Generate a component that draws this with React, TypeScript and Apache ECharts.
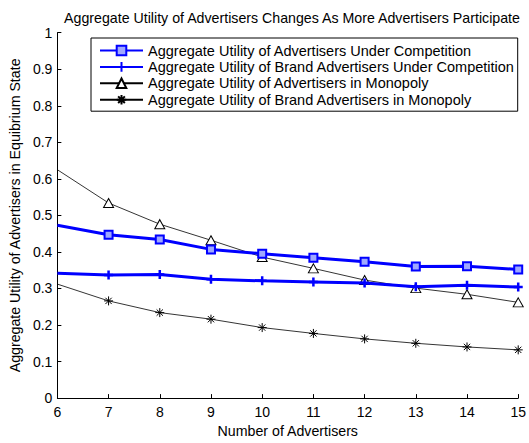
import React, { useEffect, useRef } from "react";
import * as echarts from "echarts";

const xValues = [6, 7, 8, 9, 10, 11, 12, 13, 14, 15];
const compAll = [0.473, 0.447, 0.434, 0.407, 0.395, 0.384, 0.373, 0.36, 0.361, 0.352];
const compBrand = [0.342, 0.337, 0.338, 0.325, 0.321, 0.318, 0.315, 0.305, 0.309, 0.304];
const monoAll = [0.625, 0.534, 0.476, 0.432, 0.386, 0.355, 0.323, 0.301, 0.284, 0.262];
const monoBrand = [0.312, 0.266, 0.234, 0.216, 0.193, 0.177, 0.162, 0.15, 0.14, 0.132];
const seriesNames = [
  "Aggregate Utility of Advertisers Under Competition",
  "Aggregate Utility of Brand Advertisers Under Competition",
  "Aggregate Utility of Advertisers in Monopoly",
  "Aggregate Utility of Brand Advertisers in Monopoly",
];
const titleText = "Aggregate Utility of Advertisers Changes As More Advertisers Participate";
const xName = "Number of Advertisers";
const yName = "Aggregate Utility of Advertisers in Equibrium State";

const FONT = "'Liberation Sans', Arial, Helvetica, sans-serif";
const FS = 14.2;
const LEG_FS = 14.5;
const TICK_FS = 14;
const PLUS = "path://M5,0 L5,10 M0,5 L10,5";
const STAR = "path://M5,0 L5,10 M0,5 L10,5 M1.5,1.5 L8.5,8.5 M8.5,1.5 L1.5,8.5";

function toData(vals: number[]) {
  return vals.map((v, i) =>
    i === 0 ? { value: [xValues[i], v], symbol: "none" } : { value: [xValues[i], v] }
  );
}

export default function App() {
  const ref = useRef<HTMLDivElement>(null);
  useEffect(() => {
    if (!ref.current) return;
    const chart = echarts.init(ref.current, null, { renderer: "svg" });
    const axisLine = { show: true, lineStyle: { color: "#000", width: 1 } };
    chart.setOption({
      animation: false,
      backgroundColor: "#fff",
      textStyle: { fontFamily: FONT },
      title: {
        text: titleText,
        left: 287,
        textAlign: "center",
        top: 6,
        textStyle: { fontFamily: FONT, fontSize: FS, fontWeight: "normal", color: "#000" },
      },
      grid: { left: 53, right: 7.5, top: 32.7, bottom: 42.3, containLabel: false },
      legend: {
        orient: "vertical",
        left: 91,
        top: 38,
        padding: [5, 3, 4, 8],
        itemWidth: 43,
        itemHeight: 12,
        itemGap: 1.4,
        borderColor: "#000",
        borderWidth: 1,
        backgroundColor: "#fff",
        borderRadius: 0,
        textStyle: { fontFamily: FONT, fontSize: LEG_FS, color: "#000" },
        data: seriesNames,
      },
      xAxis: {
        type: "value",
        min: 6,
        max: 15,
        interval: 1,
        name: xName,
        nameLocation: "middle",
        nameGap: 22,
        nameTextStyle: { fontFamily: FONT, fontSize: FS, color: "#000" },
        axisLine,
        axisTick: { show: true, inside: true, length: 4, lineStyle: { color: "#000" } },
        axisLabel: { color: "#000", fontSize: TICK_FS, fontFamily: FONT, margin: 7 },
        splitLine: { show: false },
      },
      yAxis: {
        type: "value",
        min: 0,
        max: 1,
        interval: 0.1,
        name: yName,
        nameLocation: "middle",
        nameGap: 32,
        nameTextStyle: { fontFamily: FONT, fontSize: FS, color: "#000" },
        axisLine,
        axisTick: { show: true, inside: true, length: 4, lineStyle: { color: "#000" } },
        axisLabel: {
          color: "#000",
          fontSize: TICK_FS,
          fontFamily: FONT,
          margin: 5,
          formatter: (v: number) => (v === 0 ? "0" : v === 1 ? "1" : v.toFixed(1)),
        },
        splitLine: { show: false },
      },
      series: [
        {
          name: seriesNames[0],
          type: "line",
          data: toData(compAll),
          symbol: "rect",
          symbolSize: 8,
          lineStyle: { color: "#0000ff", width: 3 },
          itemStyle: { color: "#9fa8ff", borderColor: "#0000ff", borderWidth: 2 },
          z: 4,
        },
        {
          name: seriesNames[1],
          type: "line",
          data: toData(compBrand),
          symbol: PLUS,
          symbolSize: 9,
          lineStyle: { color: "#0000ff", width: 3 },
          itemStyle: { color: "rgba(0,0,0,0)", borderColor: "#0000ff", borderWidth: 2.5 },
          z: 4,
        },
        {
          name: seriesNames[2],
          type: "line",
          data: toData(monoAll),
          symbol: "triangle",
          symbolSize: [10, 9],
          lineStyle: { color: "#000", width: 0.8 },
          itemStyle: { color: "#fff", borderColor: "#000", borderWidth: 1 },
          z: 3,
        },
        {
          name: seriesNames[3],
          type: "line",
          data: toData(monoBrand),
          symbol: STAR,
          symbolSize: 9,
          lineStyle: { color: "#000", width: 0.8 },
          itemStyle: { color: "rgba(0,0,0,0)", borderColor: "#000", borderWidth: 1 },
          z: 3,
        },
      ],
    });
    return () => chart.dispose();
  }, []);
  return <div ref={ref} style={{ width: 529, height: 443, position: "absolute", left: 0, top: 0 }} />;
}
